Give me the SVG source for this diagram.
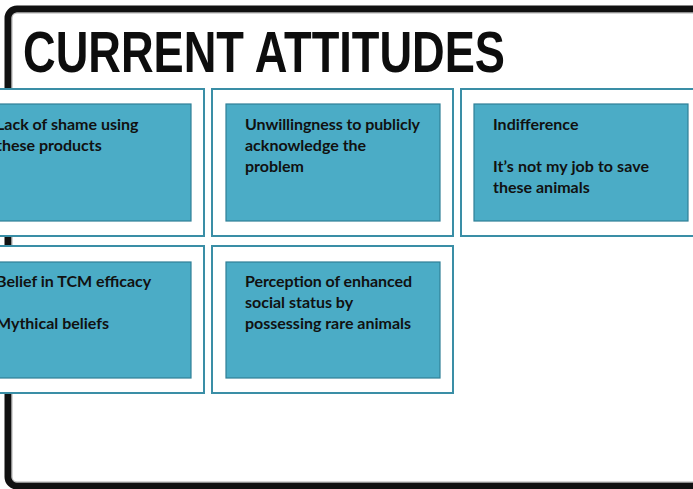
<svg xmlns="http://www.w3.org/2000/svg" width="693" height="489" viewBox="0 0 693 489">
<style>
.outer{fill:#ffffff;stroke:#3a8ea6;stroke-width:2}
.inner{fill:#4bacc6;stroke:#2f7f97;stroke-width:1.2}
.t{font-family:"Lato","Liberation Sans",sans-serif;font-weight:bold;font-size:16px;fill:#111}
.title{font-family:"Liberation Sans","Arial",sans-serif;font-weight:bold;font-size:58px;fill:#0d0d0d}
</style>
<rect x="0" y="0" width="693" height="489" fill="#ffffff"/>
<g id="frame">
<rect x="8" y="9" width="710" height="477" rx="9" fill="#ffffff" stroke="#111" stroke-width="7"/>
<rect x="12" y="13" width="702" height="469" rx="5" fill="none" stroke="#9a9a9a" stroke-width="0.8"/>
</g>
<text class="title" x="23" y="72" textLength="482" lengthAdjust="spacingAndGlyphs">CURRENT ATTITUDES</text>
<g id="connectors"></g>
<g id="n1">
<rect class="outer" x="-37" y="89" width="241" height="147"/>
<rect class="inner" x="-23" y="104" width="214" height="117"/>
<text class="t" x="-4" y="130">Lack of shame using</text>
<text class="t" x="-4" y="151">these products</text>
</g>
<g id="n2">
<rect class="outer" x="212" y="89" width="241" height="147"/>
<rect class="inner" x="226" y="104" width="214" height="117"/>
<text class="t" x="245" y="130" textLength="175">Unwillingness to publicly</text>
<text class="t" x="245" y="151">acknowledge the</text>
<text class="t" x="245" y="172">problem</text>
</g>
<g id="n3">
<rect class="outer" x="461" y="89" width="241" height="147"/>
<rect class="inner" x="474" y="104" width="214" height="117"/>
<text class="t" x="493" y="130">Indifference</text>
<text class="t" x="493" y="172" textLength="156">It’s not my job to save</text>
<text class="t" x="493" y="193">these animals</text>
</g>
<g id="n4">
<rect class="outer" x="-37" y="246" width="241" height="147"/>
<rect class="inner" x="-23" y="262" width="214" height="116"/>
<text class="t" x="-4" y="287">Belief in TCM efficacy</text>
<text class="t" x="-4" y="329">Mythical beliefs</text>
</g>
<g id="n5">
<rect class="outer" x="212" y="246" width="241" height="147"/>
<rect class="inner" x="226" y="262" width="214" height="116"/>
<text class="t" x="245" y="287" textLength="167">Perception of enhanced</text>
<text class="t" x="245" y="308">social status by</text>
<text class="t" x="245" y="329" textLength="166">possessing rare animals</text>
</g>
</svg>
